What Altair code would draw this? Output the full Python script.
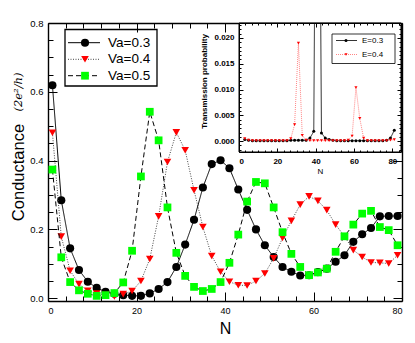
import altair as alt
import pandas as pd

# ---------------- data ----------------
N_main = [1, 3, 5, 7, 9, 11, 13, 15, 17, 19, 21, 23, 25, 27, 29, 31, 33, 35, 37, 39,
          41, 43, 45, 47, 49, 51, 53, 55, 57, 59, 61, 63, 65, 67, 69, 71, 73, 75, 77, 79]
va03 = [0.619, 0.285, 0.145, 0.082, 0.048, 0.030, 0.019, 0.013, 0.009, 0.007,
        0.007, 0.014, 0.027, 0.047, 0.091, 0.156, 0.228, 0.322, 0.390, 0.401,
        0.378, 0.316, 0.257, 0.200, 0.154, 0.120, 0.091, 0.077, 0.066, 0.067,
        0.076, 0.086, 0.106, 0.125, 0.164, 0.186, 0.204, 0.238, 0.239, 0.239]
va04 = [0.481, 0.179, 0.080, 0.041, 0.022, 0.014, 0.009, 0.005, 0.012, 0.021,
        0.050, 0.114, 0.238, 0.396, 0.482, 0.430, 0.314, 0.207, 0.123, 0.077,
        0.048, 0.038, 0.037, 0.050, 0.072, 0.116, 0.175, 0.225, 0.272, 0.296,
        0.283, 0.256, 0.214, 0.180, 0.140, 0.120, 0.104, 0.103, 0.101, 0.125]
va05 = [0.374, 0.119, 0.047, 0.023, 0.013, 0.007, 0.009, 0.015, 0.046, 0.138,
        0.354, 0.542, 0.459, 0.264, 0.132, 0.065, 0.033, 0.021, 0.027, 0.047,
        0.103, 0.185, 0.281, 0.338, 0.334, 0.264, 0.192, 0.129, 0.091, 0.067,
        0.075, 0.086, 0.135, 0.180, 0.214, 0.246, 0.254, 0.207, 0.198, 0.154]
main_labels = ["Va=0.3", "Va=0.4", "Va=0.5"]

N_inset = [3, 5, 7, 9, 11, 13, 15, 17, 19, 21, 23, 25, 27, 29, 31, 33, 35, 37, 39, 41,
           43, 45, 47, 49, 51, 53, 55, 57, 59, 61, 63, 65, 67, 69, 71, 73, 75, 77, 79, 81]
e03 = [0.0003, 0.0002, 0.0001, 0.0001, 0.0001, 0.0001, 0.0001, 0.0001, 0.0001, 0.0001,
       0.0001, 0.0001, 0.0002, 0.0002, 0.0002, 0.0002, 0.0002, 0.0006, 0.0019, 0.12,
       0.0016, 0.0006, 0.0003, 0.0002, 0.0001, 0.0001, 0.0001, 0.0001, 0.0001, 0.0001,
       0.0001, 0.0001, 0.0001, 0.0001, 0.0001, 0.0001, 0.0001, 0.0002, 0.0006, 0.0021]
e04 = [0.0005, 0.0002, 0.0001, 0.0001, 0.0001, 0.0001, 0.0001, 0.0001, 0.0001, 0.0001,
       0.0001, 0.0001, 0.0005, 0.0032, 0.0190, 0.0011, 0.0002, 0.0001, 0.0001, 0.0001,
       0.0001, 0.0001, 0.0001, 0.0001, 0.0001, 0.0001, 0.0001, 0.0002, 0.0010, 0.0104,
       0.0044, 0.0006, 0.0001, 0.0001, 0.0001, 0.0001, 0.0001, 0.0001, 0.0002, 0.0003]
inset_labels = ["E=0.3", "E=0.4"]

# ---------------- styling ----------------
W, H = 354, 278
FONT = "Liberation Sans"
one = pd.DataFrame({"k": [0]})

X_DOM = [0, 80]
Y_DOM = [-0.008, 0.8]
x_ticks = [i * 4 for i in range(21)]
y_ticks = [round(i * 0.05, 3) for i in range(17)]
MAJ_X = "abs(datum.value/20 - round(datum.value/20)) < 0.001"
MAJ_Y = "abs(datum.value*5 - round(datum.value*5)) < 0.001"

IX_DOM = [0, 84.5]
IX_RANGE = [191, 353]
IY_DOM = [-0.0021, 0.0229]
IY_RANGE = [129, 0]
ix_ticks = [i * 20 / 6 for i in range(26)]
iy_ticks = [round(i * 0.005 / 6, 6) for i in range(-2, 28)]
IMAJ_X = "abs(datum.value/20 - round(datum.value/20)) < 0.001"
IMAJ_Y = "abs(datum.value/0.005 - round(datum.value/0.005)) < 0.001"


def tsize(test, big, small):
    return {"condition": {"test": test, "value": -big}, "value": -small}


common_axis = dict(grid=False, domainColor="black", tickColor="black", labelColor="black")

xs_main = alt.Scale(domain=X_DOM, nice=False, zero=False)
ys_main = alt.Scale(domain=Y_DOM, nice=False, zero=False)

ax_bottom = alt.Axis(orient="bottom", values=x_ticks, tickSize=tsize(MAJ_X, 9, 5),
                     labelExpr=f"{MAJ_X} ? format(datum.value, 'd') : ''",
                     labelFont=FONT, labelFontSize=9, labelPadding=14, domainWidth=1.4,
                     title="N", titleFont=FONT, titleFontSize=16, titleFontWeight="normal",
                     titleY=32, titleBaseline="alphabetic", **common_axis)
ax_left = alt.Axis(orient="left", values=y_ticks, tickSize=tsize(MAJ_Y, 9, 5),
                   labelExpr=f"{MAJ_Y} ? format(datum.value, '.1f') : ''",
                   labelFont=FONT, labelFontSize=9.5, labelPadding=14, domainWidth=1.4,
                   title="Conductance", titleFont=FONT, titleFontSize=16.5,
                   titleFontWeight="normal", titleAngle=270, titleX=-25, titleY=149,
                   titleAlign="center", titleBaseline="alphabetic", **common_axis)

X = alt.X("N:Q", scale=xs_main, axis=ax_bottom)
Y = alt.Y("v:Q", scale=ys_main, axis=ax_left)

styles = [
    dict(line_color="black", dash=[1, 0], shape="circle", mcolor="black", size=66),
    dict(line_color="#444444", dash=[1, 1.5], shape="triangle-down", mcolor="#ff0000", size=58),
    dict(line_color="black", dash=[5, 3], shape="square", mcolor="#00ff00", size=60),
]

main_layers = []
for vals, st in zip([va03, va04, va05], styles):
    df = pd.DataFrame({"N": N_main, "v": vals})
    main_layers.append(alt.Chart(df).mark_line(color=st["line_color"], strokeDash=st["dash"],
                                               strokeWidth=1).encode(x=X, y=Y))
    main_layers.append(alt.Chart(df).mark_point(shape=st["shape"], filled=True, opacity=1,
                                                color=st["mcolor"], size=st["size"]).encode(x=X, y=Y))

# main legend
main_layers.append(alt.Chart(one).mark_rect(fillOpacity=0, stroke="black", strokeWidth=1.3).encode(
    x=alt.value(17), x2=alt.value(109), y=alt.value(6.5), y2=alt.value(63)))
rows = [19.7, 36.3, 52.7]
for lab, st, ry in zip(main_labels, styles, rows):
    main_layers.append(alt.Chart(one).mark_rule(color=st["line_color"], strokeDash=st["dash"],
                                                strokeWidth=1).encode(
        x=alt.value(20), x2=alt.value(52), y=alt.value(ry)))
    main_layers.append(alt.Chart(one).mark_point(shape=st["shape"], filled=True, opacity=1,
                                                 color=st["mcolor"], size=st["size"]).encode(
        x=alt.value(37), y=alt.value(ry)))
    main_layers.append(alt.Chart(pd.DataFrame({"t": [lab]})).mark_text(
        font=FONT, fontSize=13.5, align="left", baseline="middle", color="black").encode(
        x=alt.value(60), y=alt.value(ry), text="t:N"))

# unit part of the y title
main_layers.append(alt.Chart(pd.DataFrame({"t": ["(2e\u00b2/h)"]})).mark_text(
    font="DejaVu Serif", fontStyle="italic", fontSize=11.5, angle=270, align="center",
    baseline="alphabetic", color="black").encode(x=alt.value(-26), y=alt.value(69), text="t:N"))

main = alt.layer(*main_layers)

# main frame: top & right inward ticks
frame = alt.Chart(one).mark_rect(fillOpacity=0, strokeOpacity=0).encode(
    x=alt.XDatum(0, type="quantitative", scale=alt.Scale(domain=X_DOM, nice=False, zero=False),
                 axis=alt.Axis(orient="top", values=x_ticks, tickSize=tsize(MAJ_X, 9, 5),
                               labels=False, title="", domainWidth=1.4, **common_axis)),
    x2=alt.X2Datum(80),
    y=alt.YDatum(0, type="quantitative", scale=alt.Scale(domain=Y_DOM, nice=False, zero=False),
                 axis=alt.Axis(orient="right", values=y_ticks, tickSize=tsize(MAJ_Y, 9, 5),
                               labels=False, title="", domainWidth=1.4, **common_axis)),
    y2=alt.Y2Datum(0.8),
)

# ---------------- inset ----------------
ixs = alt.Scale(domain=IX_DOM, range=IX_RANGE, nice=False, zero=False)
iys = alt.Scale(domain=IY_DOM, range=IY_RANGE, nice=False, zero=False)
iax_bottom = alt.Axis(orient="bottom", offset=-(H - 129), values=ix_ticks,
                      tickSize=tsize(IMAJ_X, 4, 2),
                      labelExpr=f"{IMAJ_X} ? format(datum.value, 'd') : ''",
                      labelFont=FONT, labelFontSize=8, labelFontWeight="bold", labelPadding=9,
                      domainWidth=1, zindex=1, title="N", titleFont=FONT, titleFontSize=8,
                      titleFontWeight="normal", titleY=21, titleBaseline="alphabetic", **common_axis)
iax_left = alt.Axis(orient="left", offset=-191, values=iy_ticks, tickSize=tsize(IMAJ_Y, 4, 2),
                    labelExpr=f"{IMAJ_Y} ? format(datum.value, '.3f') : ''",
                    labelFont=FONT, labelFontSize=8, labelFontWeight="bold", labelPadding=9,
                    domainWidth=1, zindex=1, title="Transmission probability", titleFont=FONT,
                    titleFontSize=8, titleFontWeight="bold", titleAngle=270, titleX=-33,
                    titleY=58, titleAlign="center", titleBaseline="alphabetic", **common_axis)
IX = alt.X("N:Q", scale=ixs, axis=iax_bottom)
IY = alt.Y("t:Q", scale=iys, axis=iax_left)

istyles = [
    dict(line_color="black", dash=[1, 0], shape="circle", mcolor="black", size=9),
    dict(line_color="#ff6666", dash=[1, 1], shape="triangle-down", mcolor="#ff0000", size=10),
]
inset_layers = [alt.Chart(one).mark_rect(fill="white", stroke="black", strokeWidth=1).encode(
    x=alt.XDatum(IX_DOM[0], type="quantitative", scale=ixs, axis=iax_bottom),
    x2=alt.X2Datum(IX_DOM[1]),
    y=alt.YDatum(IY_DOM[0], type="quantitative", scale=iys, axis=iax_left),
    y2=alt.Y2Datum(IY_DOM[1]))]
for vals, st in zip([e03, e04], istyles):
    df = pd.DataFrame({"N": N_inset, "t": vals})
    inset_layers.append(alt.Chart(df).mark_line(color=st["line_color"], strokeDash=st["dash"],
                                                strokeWidth=0.8, clip=True).encode(x=IX, y=IY))
    inset_layers.append(alt.Chart(df).mark_point(shape=st["shape"], filled=True, opacity=1,
                                                 color=st["mcolor"], size=st["size"],
                                                 clip=True).encode(x=IX, y=IY))
# inset legend
inset_layers.append(alt.Chart(one).mark_rect(fillOpacity=0, stroke="black", strokeWidth=0.8).encode(
    x=alt.value(284), x2=alt.value(347), y=alt.value(11), y2=alt.value(40.5)))
for lab, st, ry in zip(inset_labels, istyles, [17.5, 31.5]):
    inset_layers.append(alt.Chart(one).mark_rule(color=st["line_color"], strokeDash=st["dash"],
                                                 strokeWidth=0.8).encode(
        x=alt.value(288), x2=alt.value(309), y=alt.value(ry)))
    inset_layers.append(alt.Chart(one).mark_point(shape=st["shape"], filled=True, opacity=1,
                                                  color=st["mcolor"], size=st["size"]).encode(
        x=alt.value(298), y=alt.value(ry)))
    inset_layers.append(alt.Chart(pd.DataFrame({"t": [lab]})).mark_text(
        font=FONT, fontSize=8, align="left", baseline="middle", color="black").encode(
        x=alt.value(314), y=alt.value(ry), text="t:N"))
inset = alt.layer(*inset_layers)

inset_frame = alt.Chart(one).mark_rect(fillOpacity=0, strokeOpacity=0).encode(
    x=alt.XDatum(IX_DOM[0], type="quantitative", scale=ixs,
                 axis=alt.Axis(orient="top", values=ix_ticks, tickSize=tsize(IMAJ_X, 4, 2),
                               labels=False, title="", domainWidth=1, zindex=1, **common_axis)),
    x2=alt.X2Datum(IX_DOM[1]),
    y=alt.YDatum(IY_DOM[0], type="quantitative", scale=iys,
                 axis=alt.Axis(orient="right", offset=-1, values=iy_ticks,
                               tickSize=tsize(IMAJ_Y, 4, 2),
                               labels=False, title="", domainWidth=1, zindex=1, **common_axis)),
    y2=alt.Y2Datum(IY_DOM[1]),
)

chart = alt.layer(main, frame, inset, inset_frame).resolve_scale(
    x="independent", y="independent"
).properties(
    width=W, height=H,
    padding={"left": 40, "top": 15, "right": 5, "bottom": 36},
    autosize=alt.AutoSizeParams(type="none"),
    background="white",
).configure_view(stroke=None)

chart.save("out.html", embed_options={"renderer": "svg", "actions": False})
